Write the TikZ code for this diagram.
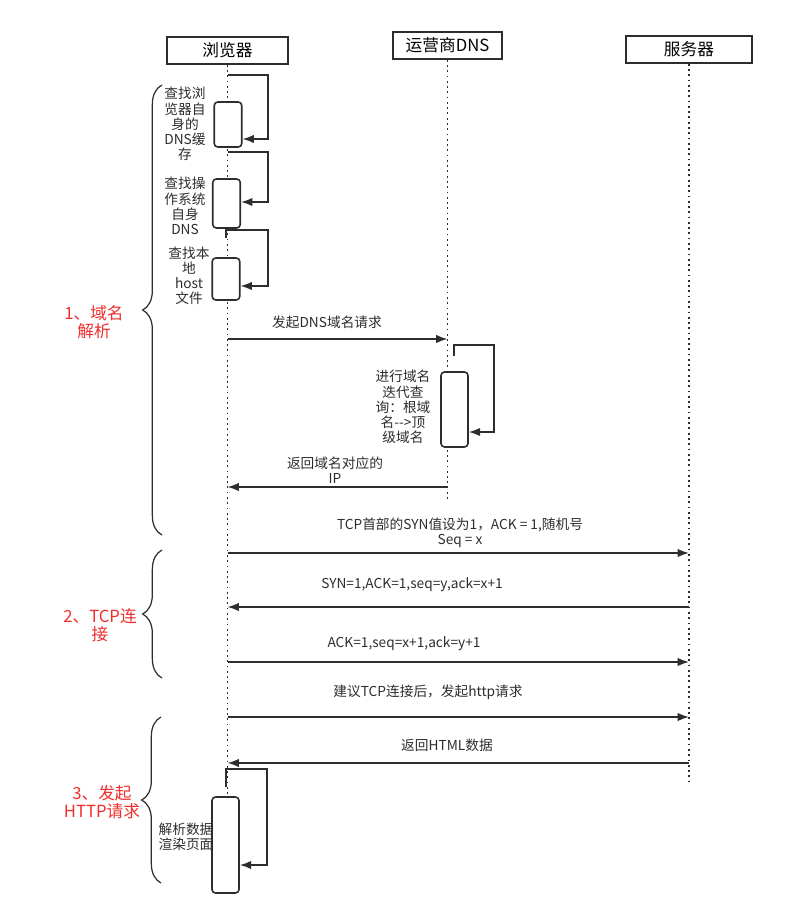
\documentclass[tikz,border=0pt]{standalone}
\usepackage{fontspec}
\setmainfont{Noto Sans CJK SC}
\usetikzlibrary{arrows.meta,decorations.pathreplacing}
\definecolor{stepred}{RGB}{240,45,45}
\definecolor{inkgray}{RGB}{45,45,45}

\begin{document}
\begin{tikzpicture}[x=0.02cm,y=-0.02cm,>={Latex[length=6.5pt,width=4.8pt]},line width=0.9pt,draw=inkgray,
    head/.style={draw=inkgray,minimum height=0.54cm,inner sep=0pt,font=\fontsize{9.5}{11}\selectfont},
    act/.style={draw=inkgray,fill=white,rounded corners=2pt,minimum width=0.55cm,inner sep=0pt},
    life/.style={dotted,line width=1pt},
    msg/.style={->,inkgray},
    txt/.style={align=center,inner sep=0pt,text=inkgray,font=\fontsize{7.8}{8.6}\selectfont},
    phase/.style={align=center,inner sep=0pt,text=stepred,font=\fontsize{9.5}{10.4}\selectfont},
    brc/.style={decorate,decoration={brace,amplitude=11pt},line width=0.7pt}]
            \useasboundingbox (0,0) rectangle (803,905);
            % lifeline heads
            \node[head,minimum width=2.42cm] (browser) at (227.5,50.5) {浏览器};
            \node[head,minimum width=2.18cm] (dns) at (447.5,45.5) {运营商DNS};
            \node[head,minimum width=2.52cm] (server) at (689,49.5) {服务器};
            \draw[life] (browser.south) -- (browser |- 0,797);
            \draw[life] (dns.south) -- (dns |- 0,502);
            \draw[life] (server.south) -- (server |- 0,783);
            % 1. dns lookup
            \node[act,minimum height=0.9cm] (look1) at (228,124.5) {};
            \node[act,minimum height=0.98cm] (look2) at (226.5,203.5) {};
            \node[act,minimum height=0.84cm] (look3) at (226,279) {};
            \draw[->] (browser |- 0,75) -- (268,75) -- (268,139) -- (look1.east |- 0,139);
            \draw[->] (228,152) -- (268,152) -- (268,202) -- (look2.east |- 0,202);
            \draw[->] (226,238) -- (226,230) -- (268,230) -- (268,286) -- (look3.east |- 0,286);
            \node[txt] (lab1) at (185,124) {查找浏\\览器自\\身的\\DNS缓\\存};
            \node[txt] (lab2) at (185,206) {查找操\\作系统\\自身\\DNS};
            \node[txt] (lab3) at (189,276) {查找本\\地\\host\\文件};
            \draw[msg] (browser |- 0,339) -- (dns |- 0,339);
            \node[txt] (lab4) at (327,322) {发起DNS域名请求};
            \node[act,minimum height=1.5cm,minimum width=0.54cm] (iter) at (454.5,409.5) {};
            \draw[->] (454,356) -- (454,345) -- (494,345) -- (494,432) -- (iter.east |- 0,432);
            \node[txt] (lab5) at (403,407) {进行域名\\迭代查\\询：根域\\名-{}-{}>顶\\级域名};
            \draw[msg] (dns |- 0,487) -- (browser |- 0,487);
            \node[txt] (lab6) at (335,470) {返回域名对应的\\IP};
            % 2. tcp handshake
            \draw[msg] (browser |- 0,553) -- (server |- 0,553);
            \node[txt] (lab7) at (460,533) {TCP首部的SYN值设为1，ACK = 1,随机号\\Seq = x};
            \draw[msg] (server |- 0,607) -- (browser |- 0,607);
            \node[txt] (lab8) at (412,585) {SYN=1,ACK=1,seq=y,ack=x+1};
            \draw[msg] (browser |- 0,662) -- (server |- 0,662);
            \node[txt] (lab9) at (404,644) {ACK=1,seq=x+1,ack=y+1};
            % 3. http request
            \draw[msg] (browser |- 0,717) -- (server |- 0,717);
            \node[txt] (lab10) at (428,692) {建议TCP连接后，发起http请求};
            \draw[msg] (server |- 0,763) -- (browser |- 0,763);
            \node[txt] (lab11) at (447,745) {返回HTML数据};
            \node[act,minimum height=1.92cm,minimum width=0.54cm] (render) at (225.5,845) {};
            \draw[->] (226,787) -- (226,769) -- (267,769) -- (267,865) -- (render.east |- 0,865);
            \node[txt] (lab12) at (186,837) {解析数据\\渲染页面};
            % phases
            \draw[brc] (162,535) -- (162,85);
            \draw[brc] (162,678) -- (162,550);
            \draw[brc] (161,883) -- (161,717);
            \node[phase] (ph1) at (94,322) {1、域名\\解析};
            \node[phase] (ph2) at (100,625) {2、TCP连\\接};
            \node[phase] (ph3) at (102,802) {3、发起\\HTTP请求};
\end{tikzpicture}
\end{document}
